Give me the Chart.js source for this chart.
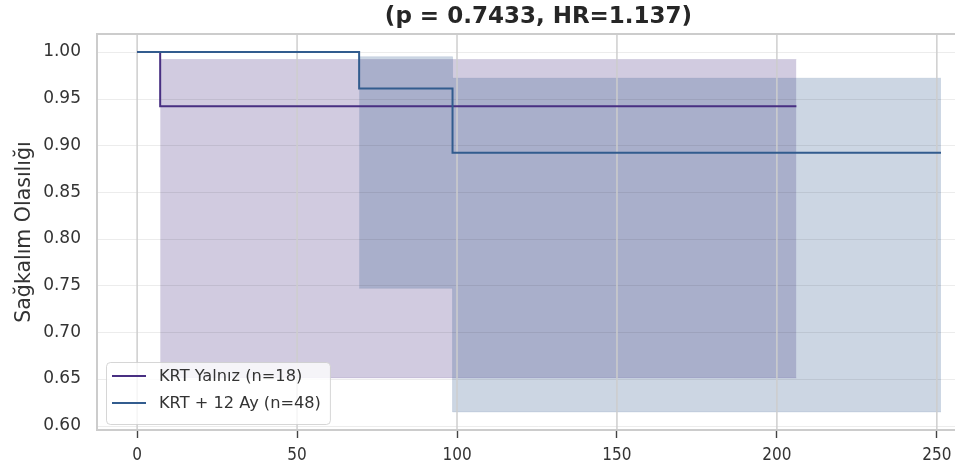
<!DOCTYPE html>
<html>
<head>
<meta charset="utf-8">
<script src="https://cdn.jsdelivr.net/npm/chart.js@4.4.1/dist/chart.umd.min.js"></script>
<style>
  html, body { margin: 0; padding: 0; background: #ffffff; overflow: hidden; width: 955px; height: 470px; }
  #wrap { position: relative; width: 955px; height: 470px; overflow: hidden; }
  #c { position: absolute; left: 0; top: 0; }
</style>
</head>
<body>
<div id="wrap"><canvas id="c" width="990" height="470"></canvas></div>
<script>
// ---- data ----
const titleText = '(p = 0.7433, HR=1.137)';
const yAxisTitle = 'Sağkalım Olasılığı';
const groupLabels = ['KRT Yalnız (n=18)', 'KRT + 12 Ay (n=48)'];

const krtTimes = [0, 7.2, 206.1];
const krtSurv = [1.0, 0.942, 0.942];
const krtCiTimes = [7.2, 206.1];
const krtCiUpper = [0.992, 0.992];
const krtCiLower = [0.651, 0.651];

const krt12Times = [0, 69.4, 98.6, 251.3];
const krt12Surv = [1.0, 0.961, 0.892, 0.892];
const krt12CiTimes = [69.4, 98.6, 251.3];
const krt12CiUpper = [0.995, 0.972, 0.972];
const krt12CiLower = [0.747, 0.6145, 0.6145];

const xTicks = [0, 50, 100, 150, 200, 250];
const yTicks = [0.60, 0.65, 0.70, 0.75, 0.80, 0.85, 0.90, 0.95, 1.00];

// ---- styles ----
const purple = [72, 47, 130];
const blue = [50, 92, 142];
const rgba = (c, a) => `rgba(${c[0]},${c[1]},${c[2]},${a})`;
const pts = (xs, ys) => xs.map((x, i) => ({ x: x, y: ys[i] }));
const STEP = 'before'; // horizontal first, then vertical (step-post)

const datasets = [
  { label: groupLabels[1], isLine: true, data: pts(krt12Times, krt12Surv), borderColor: rgba(blue, 1), borderWidth: 2, stepped: STEP, pointRadius: 0, fill: false, order: 0 },
  { label: groupLabels[0], isLine: true, data: pts(krtTimes, krtSurv), borderColor: rgba(purple, 1), borderWidth: 2, stepped: STEP, pointRadius: 0, fill: false, order: 1 },
  { label: 'ci12u', data: pts(krt12CiTimes, krt12CiUpper), borderColor: rgba(blue, 0.12), borderWidth: 1, stepped: STEP, pointRadius: 0, fill: false, order: 2 },
  { label: 'ci12l', data: pts(krt12CiTimes, krt12CiLower), borderColor: rgba(blue, 0.12), borderWidth: 1, stepped: STEP, pointRadius: 0, fill: '-1', backgroundColor: rgba(blue, 0.25), order: 2 },
  { label: 'ciu', data: pts(krtCiTimes, krtCiUpper), borderColor: rgba(purple, 0.12), borderWidth: 1, stepped: STEP, pointRadius: 0, fill: false, order: 3 },
  { label: 'cil', data: pts(krtCiTimes, krtCiLower), borderColor: rgba(purple, 0.12), borderWidth: 1, stepped: STEP, pointRadius: 0, fill: '-1', backgroundColor: rgba(purple, 0.25), order: 3 }
];

const gridOverlay = {
  id: 'gridOverlay',
  beforeDatasetsDraw(chart) { chart.$gridDone = false; },
  beforeDatasetDraw(chart, args) {
    if (chart.$gridDone || !chart.data.datasets[args.index].isLine) return;
    chart.$gridDone = true;
    const ctx = chart.ctx, a = chart.chartArea;
    const xs = chart.scales.x, ys = chart.scales.y;
    ctx.save();
    ctx.lineWidth = 1;
    ctx.strokeStyle = 'rgba(0,0,0,0.075)';
    yTicks.forEach(v => {
      const p = Math.round(ys.getPixelForValue(v)) + 0.5;
      ctx.beginPath(); ctx.moveTo(a.left, p); ctx.lineTo(a.right, p); ctx.stroke();
    });
    ctx.lineWidth = 1.6;
    ctx.strokeStyle = 'rgba(205,205,205,0.92)';
    xTicks.forEach(v => {
      const p = xs.getPixelForValue(v);
      ctx.beginPath(); ctx.moveTo(p, a.top); ctx.lineTo(p, a.bottom); ctx.stroke();
    });
    ctx.restore();
  }
};

const frameAndLegend = {
  id: 'frameAndLegend',
  afterDatasetsDraw(chart) {
    const ctx = chart.ctx, a = chart.chartArea;
    ctx.save();
    ctx.strokeStyle = '#cccccc';
    ctx.lineWidth = 2;
    ctx.beginPath();
    ctx.moveTo(a.right, a.top); ctx.lineTo(a.left, a.top); ctx.lineTo(a.left, a.bottom); ctx.lineTo(a.right, a.bottom);
    ctx.stroke();
    const lineDs = [chart.data.datasets[1], chart.data.datasets[0]];
    ctx.font = '16.2px "DejaVu Sans"';
    const maxW = Math.max(...lineDs.map(d => ctx.measureText(d.label).width));
    const bx = 106, by = 362, textX = 159;
    const bw = textX + maxW + 9 - bx, bh = 62;
    ctx.beginPath();
    ctx.roundRect(bx + 0.5, by + 0.5, bw, bh, 4);
    ctx.fillStyle = 'rgba(255,255,255,0.8)';
    ctx.fill();
    ctx.strokeStyle = 'rgba(204,204,204,0.8)';
    ctx.lineWidth = 1;
    ctx.stroke();
    const rowY = [376, 403];
    lineDs.forEach((d, i) => {
      ctx.strokeStyle = d.borderColor;
      ctx.lineWidth = 2;
      ctx.beginPath(); ctx.moveTo(112, rowY[i]); ctx.lineTo(146, rowY[i]); ctx.stroke();
      ctx.fillStyle = '#333333';
      ctx.textBaseline = 'middle';
      ctx.textAlign = 'left';
      ctx.fillText(d.label, textX, rowY[i] + 1);
    });
    ctx.restore();
  }
};

new Chart(document.getElementById('c'), {
  type: 'line',
  data: { datasets: datasets },
  options: {
    responsive: false,
    devicePixelRatio: 1,
    animation: false,
    layout: { padding: { left: 0, right: 10, top: 0, bottom: 0 } },
    plugins: {
      legend: { display: false },
      tooltip: { enabled: false },
      title: {
        display: true,
        text: titleText,
        fullSize: false,
        color: '#262626',
        font: { family: 'DejaVu Sans', size: 23, weight: 'bold' },
        padding: { top: 3, bottom: 3.4 }
      }
    },
    scales: {
      x: {
        type: 'linear',
        min: -12.55,
        max: 263.5,
        afterFit: s => { s.height = 40; },
        afterBuildTicks: s => { s.ticks = xTicks.map(v => ({ value: v })); },
        ticks: {
          color: '#333333',
          font: { family: '"Liberation Sans Narrow", "DejaVu Sans Condensed", "DejaVu Sans"', size: 17 },
          padding: 7,
          maxRotation: 0,
          autoSkip: false,
          callback: v => String(v)
        },
        grid: { display: true, drawOnChartArea: false, drawTicks: true, tickLength: 8, tickColor: '#444444', tickWidth: 1.4 },
        border: { display: false }
      },
      y: {
        type: 'linear',
        min: 0.5952,
        max: 1.0193,
        afterFit: s => { s.width = 97; },
        afterBuildTicks: s => { s.ticks = yTicks.map(v => ({ value: v })); },
        ticks: {
          color: '#333333',
          font: { family: 'DejaVu Sans', size: 17 },
          padding: 16,
          autoSkip: false,
          callback: v => v.toFixed(2)
        },
        grid: { display: false, drawTicks: false },
        border: { display: false },
        title: {
          display: true,
          text: yAxisTitle,
          color: '#333333',
          font: { family: 'DejaVu Sans', size: 20.5 },
          padding: { top: 12, bottom: 0 }
        }
      }
    }
  },
  plugins: [gridOverlay, frameAndLegend]
});
</script>
</body>
</html>
